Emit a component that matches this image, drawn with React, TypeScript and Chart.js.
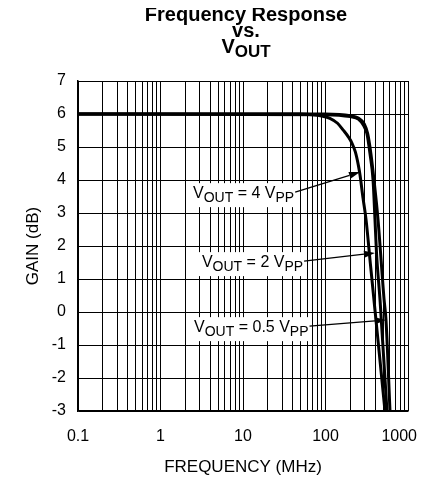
import React, { useEffect, useRef } from "react";
import { Chart, registerables } from "chart.js";

Chart.register(...registerables);

const FONT = "'Liberation Sans', Arial, Helvetica, sans-serif";

// Axis ticks
const yTickValues = [-3, -2, -1, 0, 1, 2, 3, 4, 5, 6, 7];
const xDecades = [0.1, 1, 10, 100, 1000];
const xTickLabels = ["0.1", "1", "10", "100", "1000"];
const xMinorMultipliers = [1, 2, 3, 4, 5, 6, 7, 8, 9];

// Series: frequency (MHz) and gain (dB)
const freq4 = [0.1, 50, 70, 90, 113, 140, 163, 190, 209, 230, 250, 262, 285, 310, 350, 400, 450, 526];
const gain4 = [6, 6, 5.98, 5.94, 5.87, 5.72, 5.52, 5.3, 5.12, 4.85, 4.45, 4.15, 3.45, 2.8, 1.46, 0.0, -1.28, -3];

const freq2 = [0.1, 100, 200, 250, 290, 318, 346, 377, 398, 415, 460, 556];
const gain2 = [6, 5.98, 5.92, 5.85, 5.65, 5.4, 4.8, 4.0, 2.8, 1.8, 0.3, -3];

const freq05 = [0.1, 100, 200, 250, 295, 325, 355, 387, 433, 512, 541, 605];
const gain05 = [6, 6, 5.95, 5.88, 5.7, 5.4, 4.8, 4.0, 2.8, 0.4, -0.24, -3];

const seriesAmps = ["4", "2", "0.5"];

// Annotation anchors in data units: arrow tip (freq, gain), text left (freq) and baseline (gain)
const tipFreq = [262, 398, 541];
const tipGain = [4.24, 1.79, -0.24];
const textFreq = [2.48, 3.18, 2.55];
const textGain = [3.45, 1.36, -0.61];

const isDecade = (v: number) => xDecades.findIndex((d) => Math.abs(v / d - 1) < 1e-6);

type Part = [string, boolean];

function drawRich(ctx: CanvasRenderingContext2D, x: number, y: number, parts: Part[], size: number, subSize: number, subDy: number, bold = false) {
  let cx = x;
  for (const [t, sub] of parts) {
    ctx.font = `${bold ? "bold " : ""}${sub ? subSize : size}px ${FONT}`;
    ctx.fillText(t, cx, sub ? y + subDy : y);
    cx += ctx.measureText(t).width;
  }
  return cx;
}
function richWidth(ctx: CanvasRenderingContext2D, parts: Part[], size: number, subSize: number, bold = false) {
  let w = 0;
  for (const [t, sub] of parts) {
    ctx.font = `${bold ? "bold " : ""}${sub ? subSize : size}px ${FONT}`;
    w += ctx.measureText(t).width;
  }
  return w;
}

const decorPlugin = {
  id: "decor",
  afterDatasetsDraw(chart: any) {
    const ctx: CanvasRenderingContext2D = chart.ctx;
    const xs = chart.scales.x;
    const ys = chart.scales.y;
    ctx.save();
    ctx.textAlign = "left";
    ctx.textBaseline = "alphabetic";
    for (let i = 0; i < seriesAmps.length; i++) {
      const parts: Part[] = [["V", false], ["OUT", true], [` = ${seriesAmps[i]} `, false], ["V", false], ["PP", true]];
      const lx = xs.getPixelForValue(textFreq[i]);
      const by = ys.getPixelForValue(textGain[i]);
      const w = richWidth(ctx, parts, 16, 14);
      ctx.fillStyle = "#fff";
      ctx.fillRect(lx - 3, by - 15, w + 6, 24);
      ctx.fillStyle = "#000";
      drawRich(ctx, lx, by, parts, 16, 14, 4);
      // arrow
      const sx = lx + w + 1;
      const sy = by - 6;
      const tx = xs.getPixelForValue(tipFreq[i]);
      const ty = ys.getPixelForValue(tipGain[i]);
      const ang = Math.atan2(ty - sy, tx - sx);
      const hl = 11, hw = 3.5;
      const bx = tx - hl * Math.cos(ang), byy = ty - hl * Math.sin(ang);
      ctx.strokeStyle = "#000";
      ctx.lineWidth = 1.3;
      ctx.beginPath();
      ctx.moveTo(sx, sy);
      ctx.lineTo(bx, byy);
      ctx.stroke();
      ctx.beginPath();
      ctx.moveTo(tx, ty);
      ctx.lineTo(bx - hw * Math.sin(ang), byy + hw * Math.cos(ang));
      ctx.lineTo(bx + hw * Math.sin(ang), byy - hw * Math.cos(ang));
      ctx.closePath();
      ctx.fill();
    }
    ctx.restore();
  },
  afterDraw(chart: any) {
    const ctx: CanvasRenderingContext2D = chart.ctx;
    const ca = chart.chartArea;
    const xs = chart.scales.x;
    const cx = (ca.left + ca.right) / 2 + 3;
    ctx.save();
    ctx.fillStyle = "#000";
    ctx.textBaseline = "alphabetic";
    // Title
    ctx.textAlign = "center";
    ctx.font = `bold 20px ${FONT}`;
    ctx.fillText("Frequency Response", cx, 13);
    ctx.fillText("vs.", cx, 29);
    const tparts: Part[] = [["V", false], ["OUT", true]];
    const tw = richWidth(ctx, tparts, 20, 17, true);
    ctx.textAlign = "left";
    drawRich(ctx, cx - tw / 2, 45, tparts, 20, 17, 4, true);
    // X tick labels (decades only)
    ctx.textAlign = "center";
    ctx.textBaseline = "middle";
    ctx.font = `16px ${FONT}`;
    const cw = chart.width;
    xDecades.forEach((d, i) => {
      const w = ctx.measureText(xTickLabels[i]).width;
      let px = xs.getPixelForValue(d);
      if (px + w / 2 > cw - 1) px = cw - 1 - w / 2;
      ctx.fillText(xTickLabels[i], px, ca.bottom + 26);
    });
    // Axis titles
    ctx.font = `17px ${FONT}`;
    ctx.fillText("FREQUENCY (MHz)", (ca.left + ca.right) / 2, 459);
    ctx.translate(25, (ca.top + ca.bottom) / 2);
    ctx.rotate(-Math.PI / 2);
    ctx.fillText("GAIN (dB)", 0, 0);
    ctx.restore();
  },
};

export default function App() {
  const ref = useRef<HTMLCanvasElement>(null);
  useEffect(() => {
    if (!ref.current) return;
    const xTickVals: number[] = [];
    for (let d = 0; d < xDecades.length - 1; d++) {
      for (const m of xMinorMultipliers) xTickVals.push(m * xDecades[d]);
    }
    xTickVals.push(xDecades[xDecades.length - 1]);
    const mk = (f: number[], g: number[]) => f.map((v, i) => ({ x: v, y: g[i] }));
    const chart = new Chart(ref.current, {
      type: "line",
      data: {
        datasets: [
          { label: "4 VPP", data: mk(freq4, gain4) },
          { label: "2 VPP", data: mk(freq2, gain2) },
          { label: "0.5 VPP", data: mk(freq05, gain05) },
        ].map((d) => ({
          ...d,
          borderColor: "#000",
          backgroundColor: "#000",
          borderWidth: 3,
          pointRadius: 0,
          cubicInterpolationMode: "monotone" as const,
          fill: false,
        })),
      },
      options: {
        animation: false,
        responsive: true,
        maintainAspectRatio: false,
        layout: { padding: { top: 73, right: 10, left: 0, bottom: 0 } },
        plugins: { legend: { display: false }, tooltip: { enabled: false }, title: { display: false } },
        scales: {
          x: {
            type: "logarithmic",
            min: 0.1,
            max: 1000,
            afterBuildTicks: (s: any) => {
              s.ticks = xTickVals.map((v) => ({ value: v, major: isDecade(v) >= 0 }));
            },
            afterFit: (s: any) => {
              s.height = 68;
              s.paddingLeft = 0;
              s.paddingRight = 0;
            },
            grid: { color: "#000", lineWidth: 1, drawTicks: false },
            border: { color: "#000", width: 1.5 },
            ticks: {
              autoSkip: false,
              maxRotation: 0,
              display: false,
              callback: (v: any) => {
                const i = isDecade(Number(v));
                return i >= 0 ? xTickLabels[i] : "";
              },
            },
          },
          y: {
            type: "linear",
            min: -3,
            max: 7,
            afterBuildTicks: (s: any) => {
              s.ticks = yTickValues.map((v) => ({ value: v }));
            },
            afterFit: (s: any) => {
              s.width = 70;
              s.paddingTop = 0;
              s.paddingBottom = 0;
            },
            grid: { color: "#000", lineWidth: 1, drawTicks: false },
            border: { color: "#000", width: 1.5 },
            ticks: {
              padding: 12,
              color: "#000",
              font: { family: FONT, size: 16 },
              callback: (v: any) => String(v),
            },
          },
        },
      },
      plugins: [decorPlugin],
    });
    return () => chart.destroy();
  }, []);
  return (
    <div style={{ position: "relative", width: 410, height: 471 }}>
      <canvas ref={ref} />
    </div>
  );
}
